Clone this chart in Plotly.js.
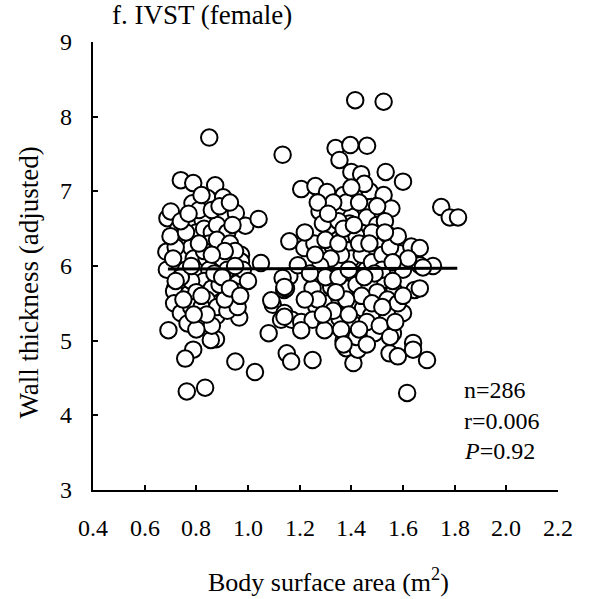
<!DOCTYPE html>
<html>
<head>
<meta charset="utf-8">
<script src="https://cdn.plot.ly/plotly-3.0.1.min.js"></script>
<style>html,body{margin:0;padding:0;background:#fff;}</style>
</head>
<body>
<div id="chart" style="width:597px;height:599px;"></div>
<script>
// Body surface area (m2)
const bsa = [
0.740,0.788,0.873,0.843,0.785,0.904,0.688,0.701,0.770,0.824,0.902,0.953,0.990,1.041,0.811,0.760,0.727,0.684,0.900,0.869,
0.973,0.818,1.050,0.686,0.718,0.766,0.818,0.882,0.940,0.960,0.895,0.953,0.973,0.850,0.714,0.772,0.889,0.947,0.714,0.740,
0.692,0.766,0.818,0.878,0.966,0.876,0.856,0.788,0.757,0.951,1.027,0.763,0.834,
0.73,0.75,0.78,0.80,0.83,0.86,0.88,0.92,0.85,0.88,0.93,0.79,0.76,0.80,0.84,0.87,0.90,0.92,0.85,0.83,
0.78,0.74,0.72,0.86,0.80,0.84,0.78,0.82,0.88,0.92,0.75,0.86,0.80,0.95,0.98,0.96,0.91,0.73,0.81,0.86,
0.95,1.00,0.70,0.78,0.89,0.83,0.91,0.76,0.94,0.84,
0.72,0.74,0.77,0.82,0.89,0.93,0.79,0.82,0.87,0.90,0.93,0.97,0.71,0.81,0.86,
1.096,1.141,1.128,1.080,1.150,1.167,1.140,1.170,1.134,1.160,1.160,1.134,1.147,1.090,1.141,1.141,
1.415,1.525,1.339,1.396,1.461,1.354,1.400,1.438,1.533,1.600,1.206,1.261,1.306,1.370,1.451,1.471,1.525,1.555,1.477,1.361,
1.277,1.748,1.400,1.218,1.257,1.313,1.290,1.374,1.393,1.445,1.328,1.386,1.477,1.509,1.541,1.587,1.632,1.665,1.716,1.193,
1.341,1.406,1.458,1.522,1.567,1.645,1.250,1.322,1.380,1.264,1.400,1.445,1.477,1.541,1.600,1.206,1.250,1.302,1.354,1.412,
1.490,1.639,1.310,1.354,1.250,1.380,1.408,1.425,1.561,1.548,1.580,1.639,1.693,1.616,1.206,1.296,1.370,1.781,1.813,1.677,
1.665,1.665,
1.30,1.35,1.42,1.46,1.50,1.53,1.48,1.40,1.44,1.48,1.52,1.55,1.57,1.60,1.36,1.32,1.28,1.30,1.35,1.42,
1.47,1.50,1.54,1.58,1.44,1.38,1.33,1.27,1.22,1.36,1.42,1.46,1.51,1.55,1.39,1.48,1.24,1.26,1.22,1.38,
1.43,1.50,1.33,1.45,1.40,1.52,1.62,1.60,1.58,1.56,1.43,1.35,
1.27,1.31,1.37,1.41,1.47,1.53,1.56,1.49,1.45,1.39,1.34,1.29,1.43,1.52,1.57,1.37,1.46
];
// Wall thickness (adjusted)
const wall = [
7.15,7.11,7.08,6.91,6.84,6.92,6.64,6.73,6.57,6.62,6.66,6.71,6.54,6.63,6.35,6.33,6.35,6.19,6.31,6.19,
6.15,6.04,6.04,5.95,5.70,5.70,5.86,5.86,5.88,5.77,5.64,5.66,6.06,7.72,5.66,5.63,5.59,5.54,5.50,5.37,
5.14,5.23,5.28,5.33,5.31,5.02,5.01,4.88,4.76,4.72,4.58,4.32,4.37,
6.05,6.15,6.25,6.45,6.50,6.45,6.55,6.45,6.30,6.35,6.30,6.10,5.95,5.95,6.10,6.05,6.10,5.95,5.95,5.80,
5.80,5.85,6.25,5.70,5.65,5.55,5.45,5.45,5.45,5.40,5.55,5.20,5.15,6.20,5.95,5.45,5.55,6.50,6.75,6.75,
6.00,5.80,6.40,6.00,5.75,6.20,6.20,6.45,6.55,5.35,
5.80,6.60,6.70,6.95,6.80,6.85,5.35,5.60,5.90,5.85,5.70,5.60,6.10,6.30,6.15,
5.48,5.37,5.28,5.10,4.83,4.72,5.68,5.28,7.49,6.33,5.86,5.84,5.70,5.54,5.72,5.32,
8.22,8.20,7.58,7.62,7.61,7.42,7.26,7.23,7.26,7.13,7.03,7.07,6.99,6.95,6.97,7.00,6.95,6.77,6.79,6.79,
6.73,6.79,6.66,6.24,6.30,6.53,6.57,6.42,6.57,6.46,6.26,6.21,6.21,6.33,6.42,6.17,6.26,6.01,6.00,6.01,
6.04,5.90,5.95,5.81,5.66,5.68,5.70,5.72,5.70,5.46,5.46,5.43,5.34,5.34,5.37,5.25,5.28,5.21,5.30,5.21,
5.10,4.97,5.50,5.55,4.74,4.90,4.70,4.88,5.10,4.83,4.79,4.88,4.74,4.30,5.14,5.14,5.00,6.65,6.65,5.98,
6.24,5.70,
6.35,6.60,6.40,6.65,6.55,6.60,6.45,6.10,6.15,6.05,6.15,6.25,6.00,5.95,6.15,6.10,6.00,5.85,5.85,5.75,
5.75,5.65,5.55,5.50,5.60,5.55,5.40,5.55,5.55,5.15,5.05,5.25,5.20,5.05,5.35,5.50,5.90,6.15,6.45,6.85,
6.85,6.80,6.85,7.10,7.05,5.95,6.10,5.60,6.40,5.80,6.30,6.30,
6.85,6.70,6.50,6.55,6.30,6.45,6.05,5.90,5.85,5.95,5.65,5.35,5.15,5.45,5.25,4.95,4.95
];
// Regression line
const fitX = [0.69, 1.81];
const fitY = [5.96, 5.97];

const xTicks = [0.4,0.6,0.8,1.0,1.2,1.4,1.6,1.8,2.0,2.2];
const xTickText = ['0.4','0.6','0.8','1.0','1.2','1.4','1.6','1.8','2.0','2.2'];
const yTicks = [3,4,5,6,7,8,9];
const yTickText = ['3','4','5','6','7','8','9'];

const FONT = "Liberation Serif, Times New Roman, serif";

const traces = [
  {
    x: bsa, y: wall, type: 'scatter', mode: 'markers',
    marker: {size: 16.5, color: '#ffffff', line: {color: '#000000', width: 2}},
    hoverinfo: 'skip', showlegend: false
  },
  {
    x: fitX, y: fitY, type: 'scatter', mode: 'lines',
    line: {color: '#000000', width: 3}, hoverinfo: 'skip', showlegend: false
  }
];

const tickAnn = [];
xTicks.forEach((v, i) => tickAnn.push({
  xref: 'x', yref: 'paper', x: v, y: 0, xanchor: 'center', yanchor: 'middle', yshift: -38,
  text: xTickText[i], showarrow: false, font: {family: FONT, size: 24, color: '#000'}
}));
yTicks.forEach((v, i) => tickAnn.push({
  xref: 'paper', yref: 'y', x: 0, y: v, xanchor: 'right', yanchor: 'middle', xshift: -19,
  text: yTickText[i], showarrow: false, font: {family: FONT, size: 24, color: '#000'}
}));

const layout = {
  width: 597, height: 599,
  margin: {l: 93, r: 39, t: 42, b: 109},
  paper_bgcolor: '#ffffff', plot_bgcolor: '#ffffff',
  font: {family: FONT, size: 23, color: '#000000'},
  showlegend: false,
  xaxis: {
    range: [0.4, 2.2], tickmode: 'array', tickvals: xTicks, showticklabels: false,
    ticks: 'inside', ticklen: 5, tickwidth: 2, tickcolor: '#000',
    showline: true, linecolor: '#000', linewidth: 2, showgrid: false, zeroline: false
  },
  yaxis: {
    range: [3, 9], tickmode: 'array', tickvals: yTicks, showticklabels: false,
    ticks: 'inside', ticklen: 5, tickwidth: 2, tickcolor: '#000',
    showline: true, linecolor: '#000', linewidth: 2, showgrid: false, zeroline: false
  },
  annotations: tickAnn.concat([
    {xref: 'paper', yref: 'paper', x: 0.037, y: 1.0, xanchor: 'left', yanchor: 'middle',
     text: 'f. IVST (female)', showarrow: false, font: {family: FONT, size: 27, color: '#000'}, yshift: 27},
    {xref: 'paper', yref: 'paper', x: 0.0, y: 0.5, xanchor: 'center', yanchor: 'middle',
     xshift: -64.5, yshift: -17, textangle: -90,
     text: 'Wall thickness (adjusted)', showarrow: false, font: {family: FONT, size: 27, color: '#000'}},
    {xref: 'paper', yref: 'paper', x: 0.5, y: 0, xanchor: 'center', yanchor: 'middle',
     xshift: 3, yshift: -90,
     text: 'Body surface area (m<sup>2</sup>)', showarrow: false, font: {family: FONT, size: 26, color: '#000'}},
    {xref: 'paper', yref: 'paper', x: 0.794, y: 0.223, xanchor: 'left', yanchor: 'middle',
     text: 'n=286', showarrow: false, font: {family: FONT, size: 24, color: '#000'}},
    {xref: 'paper', yref: 'paper', x: 0.794, y: 0.154, xanchor: 'left', yanchor: 'middle',
     text: 'r=0.006', showarrow: false, font: {family: FONT, size: 24, color: '#000'}},
    {xref: 'paper', yref: 'paper', x: 0.794, y: 0.087, xanchor: 'left', yanchor: 'middle',
     text: '<i>P</i>=0.92', showarrow: false, font: {family: FONT, size: 24, color: '#000'}}
  ])
};

Plotly.newPlot('chart', traces, layout, {staticPlot: true, displayModeBar: false});
</script>
</body>
</html>
